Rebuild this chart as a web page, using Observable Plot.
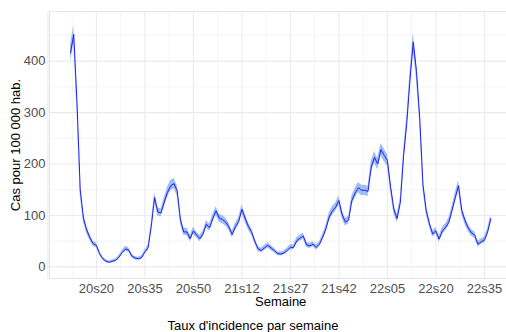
<!DOCTYPE html>
<html><head><meta charset="utf-8">
<script src="https://cdn.jsdelivr.net/npm/d3@7"></script>
<script src="https://cdn.jsdelivr.net/npm/@observablehq/plot@0.6"></script>
<style>
body{margin:0;background:#fff;font-family:"Liberation Sans",Arial,sans-serif;}
#wrap{position:relative;width:506px;height:332px;overflow:hidden;background:#fff}
#caption{position:absolute;left:0;top:318px;width:506px;text-align:center;font-size:13px;line-height:16px;color:#000}
</style></head><body>
<div id="wrap"><div id="chart"></div><div id="caption">Taux d'incidence par semaine</div></div>
<script>
// Week labels (ISO weeks 2020-W12 .. 2022-W37)
const weeks = [];
for (let w = 12; w <= 53; w++) weeks.push("20s" + String(w).padStart(2, "0"));
for (let w = 1; w <= 52; w++) weeks.push("21s" + String(w).padStart(2, "0"));
for (let w = 1; w <= 37; w++) weeks.push("22s" + String(w).padStart(2, "0"));

// Incidence rate (cases per 100 000)
const rate = [
  416,452,320,150,95,72,57,45,42,26,
  16,11,9,11,13,19,28,35,33,21,
  17,16,18,29,37,80,135,107,105,126,
  145,158,162,148,92,68,68,55,70,62,
  55,64,83,76,94,109,95,92,87,78,
  63,78,88,112,95,79,68,50,35,32,
  37,42,37,32,26,25,27,32,38,38,
  51,56,60,43,41,44,38,44,58,74,
  97,109,116,129,102,87,91,129,143,154,
  149,149,147,194,213,200,228,217,207,155,
  112,94,125,215,280,365,437,380,290,160,
  110,84,64,70,54,70,77,87,110,135,
  158,110,90,76,66,62,44,49,52,68,
  94
];
// Half-width of the confidence band
const ciHalf = [
  16,17,14,10,8,7,6,5,5,4,
  3,3,2.5,3,3,3.5,4,5,4.5,3.5,
  3.5,3,3.5,4,5,7,9,8,8,9,
  10,10,10,10,8,7,7,6,7,6,
  6,6,7,7,8,8,8,8,7.5,7,
  6,7,7.5,8.5,8,7,6.5,5.5,5,4.5,
  5,5,5,4.5,4,4,4,4.5,5,5,
  5.5,6,6,5,5,5,5,5,6,7,
  8,8.5,8.5,9,8,7.5,7.5,9,9.5,10,
  10,10,10,11,11.5,11,12,12,11.5,10,
  8.5,8,9,11.5,13,15,17,15.5,13.5,10,
  8.5,7,6.5,6.5,6,6.5,7,7.5,8.5,9.5,
  10,8.5,7.5,7,6.5,6.5,5.5,5.5,6,6.5,
  8
];
const tickLabels = ["20s20","20s35","20s50","21s12","21s27","21s42","22s05","22s20","22s35"];
const yTicks = [0, 100, 200, 300, 400];
const yMinor = [50, 150, 250, 350, 450];

const data = rate.map((v, i) => ({i, week: weeks[i], v, lo: v - ciHalf[i], hi: v + ciHalf[i]}));
const tickIdx = tickLabels.map(l => weeks.indexOf(l));
const step = tickIdx[1] - tickIdx[0];
const xMajor = d3.range(tickIdx[0] - step, tickIdx[tickIdx.length - 1] + 2 * step, step);
const xMinor = xMajor.map(t => t + step / 2);

const FONT = "'Liberation Sans', Arial, sans-serif";
const plot = Plot.plot({
  width: 506, height: 314,
  marginLeft: 49, marginRight: -5.4, marginTop: 11, marginBottom: 36,
  x: {domain: [-6.5, 136.5]},
  y: {domain: [-22.5, 496.5]},
  style: `font-family: ${FONT}; font-size: 13px; background: #fff; color: #4d4d4d;`,
  marks: [
    Plot.gridX(xMinor, {stroke: "#ebebeb", strokeOpacity: 1, strokeWidth: 0.55}),
    Plot.gridY(yMinor, {stroke: "#ebebeb", strokeOpacity: 1, strokeWidth: 0.55}),
    Plot.gridX(xMajor, {stroke: "#ebebeb", strokeOpacity: 1, strokeWidth: 1.1}),
    Plot.gridY(yTicks, {stroke: "#ebebeb", strokeOpacity: 1, strokeWidth: 1.1}),
    Plot.frame({stroke: "#e6e6e6", strokeWidth: 1}),
    Plot.areaY(data, {x: "i", y1: "lo", y2: "hi", fill: "#9fbdf0", fillOpacity: 1}),
    Plot.lineY(data, {x: "i", y: "v", stroke: "#1c1cff", strokeWidth: 1}),
    Plot.axisX(tickIdx, {tickSize: 0, tickPadding: 5.5, tickFormat: i => weeks[i], label: null, fill: "#4d4d4d", fontSize: 13, fontFamily: FONT}),
    Plot.axisY(yTicks, {tickSize: 0, tickPadding: 4, label: null, fill: "#4d4d4d", fontSize: 13, fontFamily: FONT}),
    Plot.text(["Semaine"], {frameAnchor: "bottom", lineAnchor: "middle", textAnchor: "middle", text: d => d, dy: 23.7, fontSize: 13, fontFamily: FONT, fill: "#000"}),
    Plot.text(["Cas pour 100 000 hab."], {frameAnchor: "left", lineAnchor: "middle", textAnchor: "middle", text: d => d, rotate: -90, dx: -34, fontSize: 13, fontFamily: FONT, fill: "#000"})
  ]
});
document.getElementById("chart").appendChild(plot);
</script>
</body></html>
